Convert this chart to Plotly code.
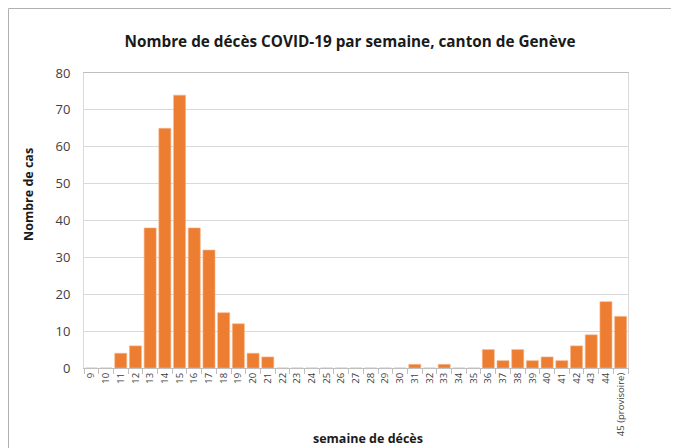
import plotly.graph_objects as go

semaines = [str(w) for w in range(9, 45)] + ["45 (provisoire)"]
deces = [0, 0, 4, 6, 38, 65, 74, 38, 32, 15, 12, 4, 3,
         0, 0, 0, 0, 0, 0, 0, 0, 0,
         1, 0, 1, 0, 0,
         5, 2, 5, 2, 3, 2, 6, 9, 18, 14]

titre = "Nombre de décès COVID-19 par semaine, canton de Genève"
titre_x = "semaine de décès"
titre_y = "Nombre de cas"

PW, PH = 544, 295  # plot area size in px

fig = go.Figure(go.Bar(
    x=semaines, y=deces,
    marker=dict(color="#ED7D31", line=dict(color="#F6B98F", width=0.6)),
    width=0.82,
))

fig.update_layout(
    width=671, height=440,
    margin=dict(l=76, r=51, t=65, b=80),
    paper_bgcolor="white", plot_bgcolor="white",
    font=dict(family="Open Sans, Lato, sans-serif", color="#404040"),
    showlegend=False,
    title=dict(text="<b>" + titre + "</b>", x=(350 - 84) / PW, xref="paper", xanchor="center",
               y=1 - 34 / 440, yanchor="middle",
               font=dict(size=15.3, color="#1a1a1a", family="Open Sans, sans-serif")),
    shapes=[dict(type="rect", xref="paper", yref="paper",
                 x0=-75.5 / PW, x1=1.5, y0=-1, y1=1 + 64.5 / PH,
                 line=dict(color="#b0b0b0", width=1), layer="below")],
    annotations=[
        dict(text="<b>" + titre_x + "</b>", xref="paper", yref="paper",
             x=(368 - 84) / PW, y=-(438.5 - 368) / PH, xanchor="center", yanchor="middle",
             showarrow=False, font=dict(size=12.5, color="#1a1a1a")),
        dict(text="<b>" + titre_y + "</b>", xref="paper", yref="paper",
             x=-(84 - 28) / PW, y=(368 - 195) / PH, xanchor="center", yanchor="middle",
             textangle=-90, showarrow=False, font=dict(size=12.5, color="#1a1a1a")),
    ],
)

fig.update_xaxes(
    type="category", tickangle=-90, tickfont=dict(size=9.5, color="#404040"),
    ticks="outside", tickson="boundaries", ticklen=5, tickcolor="#bfbfbf",
    showline=True, linecolor="#bfbfbf", linewidth=1, mirror=True,
    showgrid=False,
)
fig.update_yaxes(
    range=[0, 80], dtick=10, tickfont=dict(size=13, color="#404040"),
    showgrid=True, gridcolor="#d9d9d9", gridwidth=1,
    showline=True, linecolor="#d9d9d9", mirror=True,
    zeroline=False, ticks="", ticklabelstandoff=10,
)

fig.write_html("out.html")
